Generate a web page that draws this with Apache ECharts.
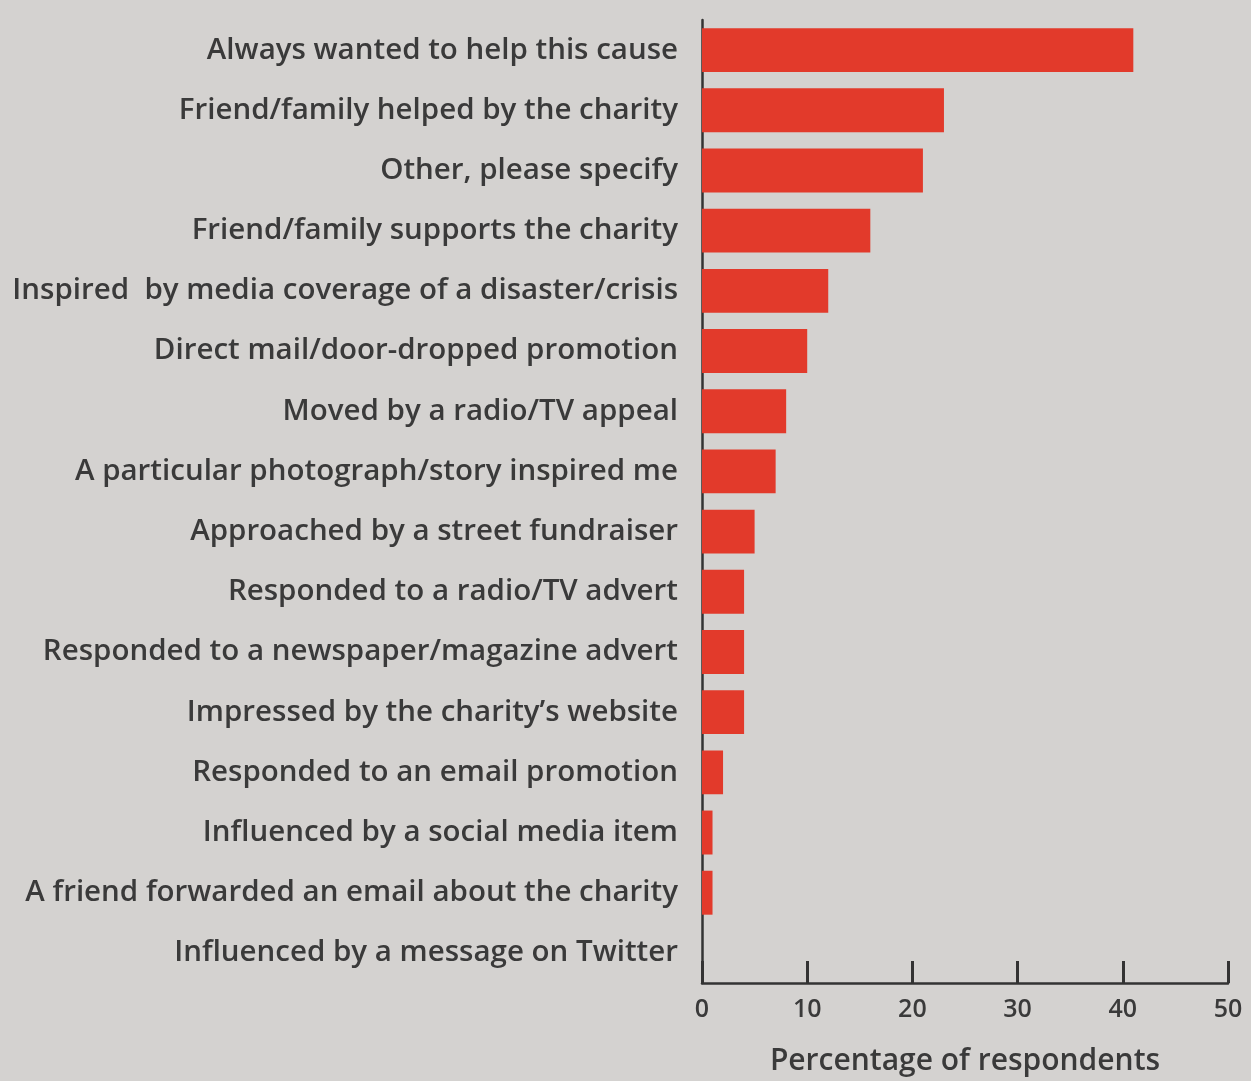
<!DOCTYPE html>
<html>
<head>
<meta charset="utf-8">
<script src="https://cdn.jsdelivr.net/npm/echarts@6/dist/echarts.min.js"></script>
<style>
  html, body { margin: 0; padding: 0; background: #d4d2d0; }
  #chart { width: 1251px; height: 1081px; }
</style>
</head>
<body>
<div id="chart"></div>
<script>
const categories = [
  "Always wanted to help this cause",
  "Friend/family helped by the charity",
  "Other, please specify",
  "Friend/family supports the charity",
  "Inspired  by media coverage of a disaster/crisis",
  "Direct mail/door-dropped promotion",
  "Moved by a radio/TV appeal",
  "A particular photograph/story inspired me",
  "Approached by a street fundraiser",
  "Responded to a radio/TV advert",
  "Responded to a newspaper/magazine advert",
  "Impressed by the charity\u2019s website",
  "Responded to an email promotion",
  "Influenced by a social media item",
  "A friend forwarded an email about the charity",
  "Influenced by a message on Twitter"
];
const values = [41, 23, 21, 16, 12, 10, 8, 7, 5, 4, 4, 4, 2, 1, 1, 0];
const xTicks = [0, 10, 20, 30, 40, 50];
const axisTitle = "Percentage of respondents";

const chart = echarts.init(document.getElementById('chart'));
const textColor = '#3a3a3a';
const fontFamily = '"Open Sans", "Noto Sans", sans-serif';
chart.setOption({
  backgroundColor: '#d4d2d0',
  animation: false,
  grid: { left: 702, right: 23, top: 20, bottom: 98, containLabel: false },
  xAxis: {
    type: 'value',
    min: xTicks[0],
    max: xTicks[xTicks.length - 1],
    interval: 10,
    splitLine: { show: false },
    axisLine: { show: true, lineStyle: { color: '#333', width: 2.5 } },
    axisTick: { show: true, inside: true, length: 22, lineStyle: { color: '#333', width: 3 } },
    axisLabel: { color: textColor, fontFamily: fontFamily, fontSize: 25, fontWeight: 600, margin: 14 },
    name: axisTitle,
    nameLocation: 'middle',
    nameGap: 63,
    nameTextStyle: { color: textColor, fontFamily: fontFamily, fontSize: 30, fontWeight: 600, verticalAlign: 'top' }
  },
  yAxis: {
    type: 'category',
    data: categories,
    inverse: true,
    axisLine: { show: true, lineStyle: { color: '#333', width: 2.5 } },
    axisTick: { show: false },
    axisLabel: { color: textColor, fontFamily: fontFamily, fontSize: 29.5, fontWeight: 600, margin: 24 }
  },
  series: [{
    type: 'bar',
    data: values,
    barCategoryGap: '27%',
    itemStyle: { color: '#e23a2b' }
  }]
});
</script>
</body>
</html>
